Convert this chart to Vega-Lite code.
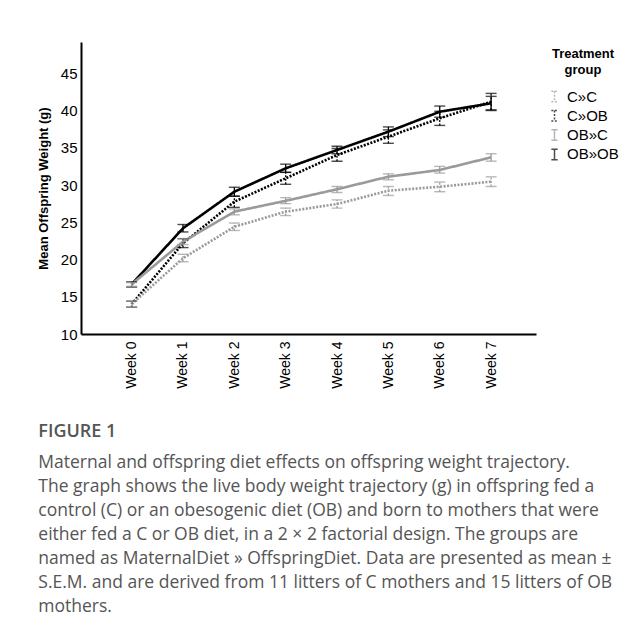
{
  "$schema": "https://vega.github.io/schema/vega-lite/v6.json",
  "width": 455,
  "height": 292,
  "padding": {"left": 37, "top": 42, "right": 5, "bottom": 5},
  "background": "white",
  "config": {"view": {"stroke": null}},
  "title": {
    "text": "FIGURE 1",
    "subtitle": [
      "Maternal and offspring diet effects on offspring weight trajectory.",
      "The graph shows the live body weight trajectory (g) in offspring fed a",
      "control (C) or an obesogenic diet (OB) and born to mothers that were",
      "either fed a C or OB diet, in a 2 × 2 factorial design. The groups are",
      "named as MaternalDiet » OffspringDiet. Data are presented as mean ±",
      "S.E.M. and are derived from 11 litters of C mothers and 15 litters of OB",
      "mothers."
    ],
    "orient": "bottom",
    "anchor": "start",
    "frame": "bounds",
    "dx": 1,
    "offset": 35,
    "font": "Open Sans",
    "fontSize": 18,
    "fontWeight": 600,
    "color": "#555555",
    "subtitleFont": "Open Sans",
    "subtitleFontSize": 17.5,
    "subtitleColor": "#555555",
    "subtitleLineHeight": 24,
    "subtitlePadding": 13
  },
  "data": {
    "values": [
      {"group": "OB»OB", "week": "Week 0", "mean": 16.67, "lo": 16.3, "hi": 17.0},
      {"group": "OB»OB", "week": "Week 1", "mean": 24.19, "lo": 23.7, "hi": 24.7},
      {"group": "OB»OB", "week": "Week 2", "mean": 29.1, "lo": 28.5, "hi": 29.7},
      {"group": "OB»OB", "week": "Week 3", "mean": 32.24, "lo": 31.7, "hi": 32.8},
      {"group": "OB»OB", "week": "Week 4", "mean": 34.7, "lo": 34.2, "hi": 35.2},
      {"group": "OB»OB", "week": "Week 5", "mean": 37.16, "lo": 36.5, "hi": 37.8},
      {"group": "OB»OB", "week": "Week 6", "mean": 39.84, "lo": 39.1, "hi": 40.6},
      {"group": "OB»OB", "week": "Week 7", "mean": 40.97, "lo": 40.0, "hi": 41.9},
      {"group": "C»OB", "week": "Week 0", "mean": 14.0, "lo": 13.6, "hi": 14.4},
      {"group": "C»OB", "week": "Week 1", "mean": 22.18, "lo": 21.6, "hi": 22.8},
      {"group": "C»OB", "week": "Week 2", "mean": 27.76, "lo": 27.0, "hi": 28.5},
      {"group": "C»OB", "week": "Week 3", "mean": 30.9, "lo": 30.1, "hi": 31.7},
      {"group": "C»OB", "week": "Week 4", "mean": 34.03, "lo": 33.2, "hi": 34.9},
      {"group": "C»OB", "week": "Week 5", "mean": 36.49, "lo": 35.6, "hi": 37.4},
      {"group": "C»OB", "week": "Week 6", "mean": 38.96, "lo": 38.0, "hi": 39.9},
      {"group": "C»OB", "week": "Week 7", "mean": 41.19, "lo": 40.1, "hi": 42.3},
      {"group": "OB»C", "week": "Week 0", "mean": 16.67, "lo": 16.4, "hi": 16.9},
      {"group": "OB»C", "week": "Week 1", "mean": 22.39, "lo": 22.0, "hi": 22.8},
      {"group": "OB»C", "week": "Week 2", "mean": 26.42, "lo": 26.0, "hi": 26.8},
      {"group": "OB»C", "week": "Week 3", "mean": 27.88, "lo": 27.5, "hi": 28.3},
      {"group": "OB»C", "week": "Week 4", "mean": 29.43, "lo": 29.0, "hi": 29.8},
      {"group": "OB»C", "week": "Week 5", "mean": 31.12, "lo": 30.7, "hi": 31.5},
      {"group": "OB»C", "week": "Week 6", "mean": 32.02, "lo": 31.6, "hi": 32.5},
      {"group": "OB»C", "week": "Week 7", "mean": 33.72, "lo": 33.2, "hi": 34.2},
      {"group": "C»C", "week": "Week 0", "mean": 14.0, "lo": 13.6, "hi": 14.4},
      {"group": "C»C", "week": "Week 1", "mean": 20.16, "lo": 19.7, "hi": 20.7},
      {"group": "C»C", "week": "Week 2", "mean": 24.4, "lo": 23.9, "hi": 24.9},
      {"group": "C»C", "week": "Week 3", "mean": 26.42, "lo": 25.9, "hi": 26.9},
      {"group": "C»C", "week": "Week 4", "mean": 27.45, "lo": 26.9, "hi": 28.0},
      {"group": "C»C", "week": "Week 5", "mean": 29.24, "lo": 28.6, "hi": 29.8},
      {"group": "C»C", "week": "Week 6", "mean": 29.77, "lo": 29.1, "hi": 30.4},
      {"group": "C»C", "week": "Week 7", "mean": 30.45, "lo": 29.8, "hi": 31.1}
    ]
  },
  "encoding": {
    "x": {
      "field": "week",
      "type": "ordinal",
      "scale": {"type": "point", "padding": 0.93, "align": 0.53},
      "axis": {
        "title": null,
        "labelAngle": -90,
        "labelPadding": 7,
        "labelFont": "Liberation Sans",
        "labelFontSize": 14,
        "labelColor": "black",
        "ticks": false,
        "domainColor": "black",
        "domainWidth": 2,
        "grid": false
      }
    },
    "color": {
      "field": "group",
      "type": "nominal",
      "scale": {"domain": ["C»C", "C»OB", "OB»C", "OB»OB"], "range": ["#9a9a9a", "#000000", "#9a9a9a", "#000000"]},
      "legend": {
        "title": ["Treatment", "group"],
        "orient": "none",
        "legendX": 466,
        "legendY": 6,
        "titleFont": "Liberation Sans",
        "titleFontSize": 13,
        "titleFontWeight": "bold",
        "titleColor": "black",
        "titleAlign": "center",
        "titleAnchor": "middle",
        "titleLineHeight": 16,
        "titlePadding": 12,
        "labelFont": "Liberation Sans",
        "labelFontSize": 15,
        "labelColor": "black",
        "labelOffset": 5,
        "rowPadding": 2.3,
        "symbolType": "M-0.6,-1H0.6M0,-1V1M-0.6,1H0.6",
        "symbolSize": 110,
        "symbolStrokeWidth": 1.5,
        "symbolFillColor": "transparent"
      }
    },
    "strokeDash": {
      "field": "group",
      "type": "nominal",
      "scale": {"domain": ["C»C", "C»OB", "OB»C", "OB»OB"], "range": [[2, 1.5], [2, 1.5], [1, 0], [1, 0]]},
      "legend": {
        "title": ["Treatment", "group"],
        "orient": "none",
        "legendX": 466,
        "legendY": 6,
        "titleFont": "Liberation Sans",
        "titleFontSize": 13,
        "titleFontWeight": "bold",
        "titleColor": "black",
        "titleAlign": "center",
        "titleAnchor": "middle",
        "titleLineHeight": 16,
        "titlePadding": 12,
        "labelFont": "Liberation Sans",
        "labelFontSize": 15,
        "labelColor": "black",
        "labelOffset": 5,
        "rowPadding": 2.3,
        "symbolType": "M-0.6,-1H0.6M0,-1V1M-0.6,1H0.6",
        "symbolSize": 110,
        "symbolStrokeWidth": 1.5,
        "symbolFillColor": "transparent"
      }
    }
  },
  "layer": [
    {
      "mark": {"type": "line", "strokeWidth": 2.6},
      "encoding": {
        "y": {
          "field": "mean",
          "type": "quantitative",
          "scale": {"domain": [10, 49.2], "nice": false, "zero": false},
          "axis": {
            "title": "Mean Offspring Weight (g)",
            "titleFont": "Liberation Sans",
            "titleFontSize": 13,
            "titleFontWeight": "bold",
            "titleColor": "black",
            "titlePadding": 10,
            "values": [10, 15, 20, 25, 30, 35, 40, 45],
            "labelFont": "Liberation Sans",
            "labelFontSize": 15,
            "labelColor": "black",
            "labelPadding": 4,
            "ticks": false,
            "grid": false,
            "domainColor": "black",
            "domainWidth": 2
          }
        }
      }
    },
    {
      "mark": {"type": "rule", "strokeWidth": 1.3},
      "encoding": {
        "y": {"field": "lo", "type": "quantitative"},
        "y2": {"field": "hi"}
      }
    },
    {
      "mark": {"type": "tick", "size": 11, "thickness": 1.4},
      "encoding": {
        "y": {"field": "lo", "type": "quantitative"}
      }
    },
    {
      "mark": {"type": "tick", "size": 11, "thickness": 1.4},
      "encoding": {
        "y": {"field": "hi", "type": "quantitative"}
      }
    }
  ]
}
